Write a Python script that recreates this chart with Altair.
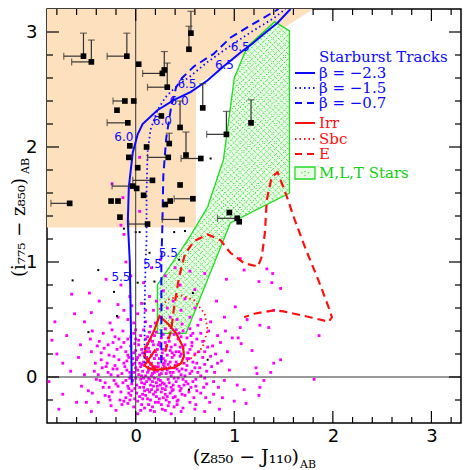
import altair as alt
import numpy as np
import pandas as pd

XMIN, XMAX = -0.9, 3.3
YMIN, YMAX = -0.4, 3.2
W, H = 414, 414

X_TICKS = [-0.8, -0.6, -0.4, -0.2, 0.0, 0.2, 0.4, 0.6, 0.8, 1.0, 1.2, 1.4, 1.6, 1.8,
           2.0, 2.2, 2.4, 2.6, 2.8, 3.0, 3.2]
Y_TICKS = [-0.2, 0.0, 0.2, 0.4, 0.6, 0.8, 1.0, 1.2, 1.4, 1.6, 1.8, 2.0, 2.2, 2.4, 2.6,
           2.8, 3.0]
LABEL_VALUES = [0, 1, 2, 3]

# shaded selection region
SEL_X = [-0.9, 0.61, 0.611, 1.80]
SEL_Y = [1.30, 1.30, 2.54, 3.20]

# M,L,T stars region: upper and lower boundary
MLT_UP_X = [0.22, 0.55, 0.73, 0.89, 1.00, 1.13, 1.41, 1.56]
MLT_UP_Y = [0.80, 1.22, 1.48, 1.89, 2.60, 2.87, 3.09, 3.01]
MLT_LO_X = [0.22, 0.51, 0.96, 1.56]
MLT_LO_Y = [0.38, 0.38, 1.34, 1.60]

# starburst tracks
TRK_A_X = [-0.04, -0.05, -0.06, -0.08, -0.07, -0.03, 0.02, 0.07, 0.22, 0.39, 0.56, 0.73, 0.89, 1.06, 1.17, 1.28, 1.44, 1.57]
TRK_A_Y = [-0.05, 0.50, 1.00, 1.35, 1.65, 1.95, 2.11, 2.20, 2.32, 2.41, 2.48, 2.58, 2.70, 2.82, 2.89, 2.97, 3.08, 3.20]
TRK_B_X = [0.09, 0.09, 0.10, 0.11, 0.11, 0.12, 0.15, 0.22, 0.30, 0.39, 0.56, 0.73, 0.96, 1.17, 1.40, 1.52]
TRK_B_Y = [0.12, 0.60, 1.00, 1.20, 1.60, 1.95, 2.15, 2.32, 2.43, 2.51, 2.62, 2.74, 2.88, 3.00, 3.12, 3.20]
TRK_C_X = [0.26, 0.26, 0.26, 0.27, 0.28, 0.31, 0.36, 0.41, 0.47, 0.59, 0.79, 0.96, 1.17, 1.45]
TRK_C_Y = [0.12, 0.60, 1.00, 1.30, 1.75, 2.08, 2.35, 2.52, 2.60, 2.70, 2.81, 2.95, 3.06, 3.20]

TRK_LBL_X = [-0.15, -0.12, 0.90, 0.17, 0.44, 1.06, 0.33, 0.27, 0.52]
TRK_LBL_Y = [0.87, 2.09, 2.71, 0.98, 2.40, 2.87, 1.08, 2.23, 2.55]
TRK_LBL_T = ["5.5", "6.0", "6.5", "5.5", "6.0", "6.5", "5.5", "6.0", "6.5"]

# galaxy tracks
IRR_X = [0.20, 0.09, 0.12, 0.19, 0.29, 0.39, 0.46, 0.49, 0.48, 0.41, 0.32, 0.24, 0.19, 0.14, 0.10, 0.09, 0.12, 0.17, 0.21]
IRR_Y = [0.24, 0.10, 0.08, 0.06, 0.07, 0.08, 0.12, 0.18, 0.26, 0.38, 0.47, 0.53, 0.41, 0.32, 0.25, 0.18, 0.14, 0.10, 0.06]
SBC_X = [0.12, 0.30, 0.49, 0.59, 0.68, 0.73, 0.70, 0.59, 0.46, 0.32, 0.22]
SBC_Y = [0.09, 0.08, 0.12, 0.18, 0.26, 0.41, 0.55, 0.67, 0.71, 0.67, 0.57]
E_X = [0.30, 0.36, 0.39, 0.44, 0.50, 0.59, 0.73, 0.86, 0.96, 1.10, 1.24, 1.28, 1.31, 1.33, 1.38, 1.44,
       1.52, 1.62, 1.73, 1.85, 1.96, 1.99, 1.96, 1.77, 1.50, 1.40, 1.20, 1.10]
E_Y = [0.22, 0.41, 0.61, 0.87, 1.07, 1.18, 1.24, 1.19, 1.08, 0.99, 0.96, 1.05, 1.25, 1.54, 1.74, 1.78,
       1.60, 1.35, 1.10, 0.85, 0.60, 0.52, 0.48, 0.52, 0.57, 0.58, 0.55, 0.52]

# candidates: x, y, left error end, upper error end (None = no bar)
SOURCES = [
    (-0.53, 2.79, -0.73, 2.99), (-0.45, 2.74, -0.65, 2.93), (-0.09, 2.79, -0.29, 2.99),
    (0.03, 2.72, None, None), (0.27, 2.64, 0.07, None), (0.29, 2.67, None, 2.83),
    (0.32, 2.52, 0.12, 2.73), (0.54, 2.85, None, 3.05), (0.56, 2.99, None, 3.18),
    (0.68, 2.34, None, 2.55), (0.45, 2.17, None, 2.40), (0.26, 2.27, None, None),
    (-0.02, 2.40, None, None), (-0.11, 2.40, -0.23, None), (-0.19, 2.32, None, None),
    (-0.08, 2.21, -0.29, None), (-0.06, 2.01, None, None), (0.11, 2.00, None, None),
    (-0.07, 1.91, None, None), (0.02, 1.82, None, None), (-0.03, 1.66, -0.24, None),
    (0.01, 1.64, None, None), (0.08, 1.58, None, None), (-0.25, 1.53, None, None),
    (-0.18, 1.53, None, None), (-0.67, 1.51, -0.86, None), (-0.16, 1.39, None, None),
    (0.12, 1.33, -0.07, None), (0.17, 1.71, -0.03, None), (0.34, 2.03, None, 2.12),
    (0.33, 1.91, 0.12, None), (0.51, 1.93, None, 2.13), (0.66, 1.90, 0.46, None),
    (0.92, 2.11, 0.72, 2.31), (0.45, 1.67, None, None), (0.58, 1.55, 0.39, None),
    (0.35, 1.53, None, None), (0.30, 1.50, None, None), (0.47, 1.37, 0.27, None),
    (0.95, 1.43, None, None), (1.03, 1.38, 0.83, None), (1.05, 1.35, None, None),
    (1.17, 2.21, None, 2.41),
]

# small black field objects
BLK_X = [-0.64, -0.38, -0.22, -0.48, -0.19, 0.02, 0.09, 0.14, 0.19, 0.58, 0.73, 0.54, 0.44, 0.76, 0.39, 0.50, -0.12, 0.00, 0.04]
BLK_Y = [0.84, 0.93, 0.74, 0.39, 0.53, 0.82, 0.64, 1.08, 0.83, 0.73, 0.15, -0.11, 1.02, 1.90, 1.26, 1.27, 1.29, 1.26, 1.26]

# magenta field galaxies (estimated positions)
MAG_CORE = [
    (-0.10, -0.18), (-0.04, -0.12), (0.02, -0.21), (0.07, -0.15), (0.12, -0.19), (0.16, -0.11), (0.21, -0.17),
    (0.26, -0.13), (0.31, -0.20), (0.35, -0.14), (0.40, -0.17), (0.45, -0.12), (-0.07, -0.14), (0.04, -0.17),
    (0.18, -0.15), (0.28, -0.18), (0.38, -0.11), (0.09, -0.12), (0.23, -0.22), (0.50, -0.16), (-0.15, -0.13),
    (0.13, -0.24), (0.33, -0.25), (-0.02, -0.26),
    (-0.13, -0.05), (-0.08, -0.08), (-0.03, -0.03), (0.01, -0.07), (0.05, -0.02), (0.08, -0.09), (0.11, -0.04),
    (0.15, -0.07), (0.19, -0.01), (0.22, -0.08), (0.25, -0.03), (0.29, -0.06), (0.33, -0.02), (0.36, -0.09),
    (0.41, -0.04), (0.44, -0.08), (0.48, -0.02), (0.53, -0.06), (-0.18, -0.08), (-0.01, -0.10), (0.13, -0.01),
    (0.27, -0.10), (0.39, -0.01), (0.06, -0.05), (0.17, -0.04), (0.31, -0.08), (-0.06, -0.01), (0.58, -0.04),
    (-0.22, -0.03), (0.21, -0.05),
    (-0.14, 0.03), (-0.09, 0.06), (-0.05, 0.01), (0.00, 0.08), (0.03, 0.02), (0.07, 0.05), (0.10, 0.01),
    (0.14, 0.07), (0.17, 0.03), (0.20, 0.09), (0.24, 0.02), (0.27, 0.06), (0.31, 0.03), (0.34, 0.08),
    (0.38, 0.04), (0.42, 0.07), (0.46, 0.02), (0.51, 0.06), (0.55, 0.03), (-0.19, 0.07), (0.05, 0.09),
    (0.12, 0.04), (0.22, 0.05), (0.29, 0.09), (0.36, 0.01), (0.44, 0.05), (-0.02, 0.04), (0.60, 0.08),
    (-0.25, 0.02), (0.16, 0.01),
    (-0.12, 0.12), (-0.07, 0.17), (-0.03, 0.11), (0.01, 0.15), (0.04, 0.19), (0.08, 0.13), (0.11, 0.17),
    (0.15, 0.11), (0.19, 0.16), (0.23, 0.12), (0.26, 0.18), (0.30, 0.14), (0.33, 0.11), (0.37, 0.17),
    (0.41, 0.13), (0.45, 0.18), (0.49, 0.12), (0.54, 0.16), (-0.17, 0.15), (0.06, 0.11), (0.13, 0.14),
    (0.28, 0.11), (0.39, 0.19), (0.58, 0.13), (-0.22, 0.18), (0.21, 0.19),
    (-0.10, 0.22), (-0.05, 0.27), (0.00, 0.23), (0.03, 0.28), (0.07, 0.21), (0.10, 0.26), (0.14, 0.22),
    (0.18, 0.28), (0.22, 0.24), (0.27, 0.21), (0.31, 0.27), (0.35, 0.23), (0.40, 0.28), (0.44, 0.22),
    (0.48, 0.26), (0.53, 0.21), (-0.15, 0.26), (0.12, 0.29), (0.25, 0.27), (0.37, 0.21), (0.57, 0.27),
    (-0.01, 0.29),
    (-0.08, 0.33), (-0.02, 0.38), (0.03, 0.32), (0.08, 0.41), (0.12, 0.35), (0.17, 0.31), (0.21, 0.39),
    (0.26, 0.34), (0.30, 0.42), (0.34, 0.31), (0.39, 0.37), (0.43, 0.33), (0.48, 0.40), (0.52, 0.34),
    (-0.13, 0.40), (0.15, 0.44), (0.36, 0.43), (0.58, 0.38), (0.05, 0.36), (0.24, 0.30),
    (-0.12, -0.21), (-0.01, -0.19), (0.06, -0.24), (0.10, -0.16), (0.15, -0.20), (0.20, -0.13), (0.24, -0.19),
    (0.30, -0.15), (0.34, -0.22), (0.43, -0.20), (0.47, -0.15), (0.09, -0.27), (0.17, -0.26), (0.39, -0.26),
    (-0.05, -0.16), (0.26, -0.24),
    (-0.10, -0.03), (-0.04, -0.06), (0.00, -0.01), (0.04, -0.09), (0.09, -0.06), (0.12, -0.11), (0.14, -0.02),
    (0.18, -0.08), (0.23, -0.02), (0.27, -0.05), (0.30, -0.11), (0.34, -0.05), (0.38, -0.07), (0.43, -0.01),
    (0.46, -0.10), (0.51, -0.04), (0.56, -0.09), (0.61, -0.02),
    (-0.11, 0.09), (-0.06, 0.04), (-0.01, 0.12), (0.02, 0.06), (0.06, 0.01), (0.09, 0.10), (0.13, 0.06),
    (0.16, 0.12), (0.19, 0.04), (0.23, 0.09), (0.26, 0.03), (0.29, 0.12), (0.32, 0.06), (0.35, 0.13),
    (0.39, 0.08), (0.43, 0.11), (0.47, 0.07), (0.52, 0.10), (0.57, 0.05), (0.62, 0.12),
    (-0.08, 0.19), (-0.02, 0.21), (0.02, 0.17), (0.06, 0.24), (0.09, 0.18), (0.13, 0.25), (0.16, 0.19),
    (0.20, 0.22), (0.24, 0.16), (0.28, 0.24), (0.32, 0.19), (0.36, 0.26), (0.41, 0.22), (0.46, 0.20),
    (0.50, 0.28), (0.55, 0.24), (0.60, 0.20),
    (-0.05, 0.35), (0.00, 0.41), (0.10, 0.33), (0.14, 0.39), (0.19, 0.36), (0.28, 0.37), (0.33, 0.34),
    (0.41, 0.41), (0.46, 0.35), (0.55, 0.42), (0.62, 0.33),
    (-0.38, 0.02), (-0.33, -0.09), (-0.29, 0.12), (-0.35, 0.21), (-0.24, -0.13), (-0.21, 0.10), (-0.27, 0.19),
    (-0.31, -0.16), (-0.19, 0.24), (-0.23, 0.30), (-0.36, -0.03), (-0.16, -0.20), (-0.28, 0.04), (-0.20, -0.06),
    (-0.41, 0.12), (-0.17, 0.33),
    (0.65, 0.08), (0.69, -0.09), (0.73, 0.26), (0.66, 0.38), (0.77, 0.09), (0.81, 0.20), (0.70, -0.01),
    (0.75, -0.22), (0.68, 0.17), (0.86, 0.30),
    (-0.27, -0.09), (-0.23, 0.07), (-0.14, -0.24), (-0.09, 0.14), (-0.06, -0.20), (-0.03, 0.16), (0.01, -0.14),
    (0.04, 0.12), (0.07, -0.19), (0.11, 0.22), (0.14, -0.13), (0.17, 0.08), (0.20, -0.22), (0.23, 0.28),
    (0.25, -0.07), (0.28, 0.16), (0.32, -0.17), (0.35, 0.04), (0.37, -0.12), (0.40, 0.10), (0.42, -0.21),
    (0.45, 0.26), (0.49, -0.07), (0.52, 0.16), (0.54, -0.13), (0.57, 0.30), (0.59, -0.18), (0.63, 0.04),
    (0.66, -0.14), (0.70, 0.22), (-0.32, 0.25), (-0.26, -0.20), (-0.18, 0.01), (-0.12, 0.30), (-0.07, -0.10),
    (0.00, 0.33), (0.08, -0.01), (0.15, 0.32), (0.22, -0.11), (0.30, 0.30), (0.38, -0.18), (0.44, 0.38),
    (0.50, 0.01), (0.56, 0.36), (0.61, -0.08), (0.72, 0.05), (0.79, -0.04), (0.83, 0.12),
]
MAG_HALO = [
    (-0.48, -0.12), (-0.42, 0.05), (-0.38, -0.22), (-0.35, 0.15), (-0.31, -0.05), (-0.28, 0.28), (-0.27, -0.17),
    (-0.33, 0.38), (-0.45, 0.22), (-0.52, 0.02), (-0.40, -0.02), (-0.30, 0.09), (-0.25, -0.25), (-0.37, 0.31),
    (-0.21, 0.35), (-0.26, 0.47), (-0.18, 0.52), (-0.55, -0.08), (-0.58, 0.17), (-0.44, 0.40),
    (0.62, -0.12), (0.66, 0.01), (0.70, 0.11), (0.64, 0.22), (0.72, -0.06), (0.76, 0.18), (0.68, 0.31),
    (0.80, 0.04), (0.84, -0.09), (0.78, 0.27), (0.87, 0.14), (0.90, -0.03), (0.74, 0.40), (0.83, 0.36),
    (0.93, 0.22), (0.63, 0.45), (0.71, -0.18), (0.61, -0.24), (0.79, -0.15), (0.95, 0.06),
    (-0.08, 0.50), (0.02, 0.55), (0.10, 0.48), (0.18, 0.58), (0.06, 0.64), (-0.04, 0.62), (0.14, 0.70),
    (0.26, 0.52), (0.32, 0.60), (0.42, 0.50), (0.46, 0.58), (0.55, 0.52), (0.38, 0.66), (0.50, 0.68),
    (0.21, 0.66), (-0.12, 0.58), (0.60, 0.60), (0.28, 0.75),
    (0.05, -0.29), (0.19, -0.30), (0.27, -0.28), (0.42, -0.24), (0.55, -0.22), (-0.08, -0.23), (0.36, -0.32),
    (0.48, -0.27),
    (-0.44, -0.14), (-0.39, 0.27), (-0.34, 0.08), (-0.46, 0.33), (0.02, -0.32), (0.15, -0.29), (0.30, -0.29),
    (0.46, -0.30), (-0.20, -0.29), (0.60, -0.28), (0.88, -0.18), (0.91, 0.40), (-0.50, -0.22), (-0.56, 0.28),
    (0.10, 0.58), (0.35, 0.52), (-0.02, 0.47), (0.20, 0.47), (0.47, 0.46), (0.66, 0.50), (-0.24, 0.41),
    (0.76, 0.48),
]
MAG_OUTER = [
    (-0.88, -0.04), (-0.80, 0.20), (-0.74, -0.15), (-0.70, 0.36), (-0.66, 0.05), (-0.62, 0.55), (-0.60, -0.22),
    (-0.52, 0.48), (-0.47, 0.73), (-0.37, 0.66), (-0.45, 0.56), (-0.30, 0.85), (-0.18, 0.63), (-0.06, 0.70),
    (-0.15, 0.80), (-0.05, 0.88), (0.08, 0.82), (0.16, 0.95), (0.30, 0.88), (0.45, 0.80), (0.60, 0.76),
    (0.70, 0.90), (0.82, 0.66), (0.90, 0.52), (-0.82, 0.48), (-0.74, 0.12), (-0.85, 0.32), (-0.78, -0.28),
    (-0.65, 0.72), (0.85, -0.28), (0.25, 1.02), (-0.10, 1.00), (0.40, 0.95), (-0.45, -0.30), (0.70, -0.30),
    (0.92, 0.85), (0.55, 0.92),
    (1.06, 1.03), (1.10, 0.93), (1.33, 0.94), (1.39, 0.90), (1.25, 0.83), (1.38, 0.82), (1.47, 0.77),
    (1.40, 0.58), (1.01, 0.61), (1.13, 0.50), (1.26, 0.45), (1.35, 0.43), (1.06, 0.43), (0.98, 0.34),
    (1.04, 0.34), (1.07, 0.29), (1.18, 0.23), (1.40, 0.12), (1.47, 0.15), (1.37, 0.04), (1.22, 0.08),
    (1.23, 0.03), (1.30, -0.03), (1.26, -0.09), (1.25, -0.16), (1.03, -0.07), (1.10, -0.11), (1.00, -0.21),
    (1.12, -0.23), (1.86, 0.36), (1.81, -0.02),
    (0.04, 1.91), (-0.24, 1.68), (-0.13, 1.56), (0.04, 1.44), (-0.15, 1.32), (-0.12, 1.24),
]

BLUE = "#0a0aff"
RED = "#ff1010"
GREEN = "#22dd22"
GREEN_TXT = "#10d010"
MAGENTA = "#ff00ff"
PEACH = "#fde0bd"
HATCH_BG = "#e9fbe6"
HATCH_LINE = "#33e033"

XS = alt.Scale(domain=[XMIN, XMAX], nice=False, zero=False)
YS = alt.Scale(domain=[YMIN, YMAX], nice=False, zero=False)
XAX = alt.Axis(values=LABEL_VALUES, ticks=False, domain=False, grid=False, labelFontSize=18,
               labelFont="DejaVu Sans", labelColor="black", labelPadding=4, title=None, labelFlush=False)
YAX = alt.Axis(values=LABEL_VALUES, ticks=False, domain=False, grid=False, labelFontSize=18,
               labelFont="DejaVu Sans", labelColor="black", labelPadding=10, title=None, labelFlush=False)


def X(f="x"):
    return alt.X(f"{f}:Q", scale=XS, axis=XAX)


def Y(f="y"):
    return alt.Y(f"{f}:Q", scale=YS, axis=YAX)


def path_df(xs, ys):
    return pd.DataFrame({"x": xs, "y": ys, "i": list(range(len(xs)))})


ONE = pd.DataFrame({"a": [0]})
layers = []

# shaded region
sel = pd.DataFrame({"x": SEL_X, "y": SEL_Y, "top": [YMAX] * len(SEL_X)})
layers.append(alt.Chart(sel).mark_area(color=PEACH, clip=True).encode(
    x=X(), y=Y(), y2=alt.Y2("top:Q")))

# M,L,T region fill (between lower and upper boundary)
xs_all = sorted(set(MLT_UP_X + MLT_LO_X))
mlt_fill = pd.DataFrame({
    "x": xs_all,
    "yt": np.interp(xs_all, MLT_UP_X, MLT_UP_Y),
    "yb": np.interp(xs_all, MLT_LO_X, MLT_LO_Y),
})
layers.append(alt.Chart(mlt_fill).mark_area(color=HATCH_BG, clip=True).encode(
    x=X(), y=Y("yt"), y2=alt.Y2("yb:Q")))

# cross-hatching of the region: diagonal lines clipped to the region boundary
px_x = W / (XMAX - XMIN)
px_y = H / (YMAX - YMIN)
slope = px_x / px_y
step = 4.2 * np.sqrt(2) / px_y
grid = np.linspace(MLT_UP_X[0], MLT_UP_X[-1], 900)
upper = np.interp(grid, MLT_UP_X, MLT_UP_Y)
lower = np.interp(grid, MLT_LO_X, MLT_LO_Y)
segs = []
for m in (slope, -slope):
    cvals = np.concatenate([upper - m * grid, lower - m * grid])
    for c in np.arange(cvals.min(), cvals.max(), step):
        yy = m * grid + c
        inside = (yy >= lower) & (yy <= upper)
        idx = np.flatnonzero(inside)
        if idx.size < 2:
            continue
        breaks = np.flatnonzero(np.diff(idx) > 1)
        starts = np.concatenate([[idx[0]], idx[breaks + 1]])
        ends = np.concatenate([idx[breaks], [idx[-1]]])
        for s, e in zip(starts, ends):
            if e > s:
                segs.append((grid[s], yy[s], grid[e], yy[e]))
hatch = pd.DataFrame(segs, columns=["x", "y", "x2", "y2"])
layers.append(alt.Chart(hatch).mark_rule(color=HATCH_LINE, strokeWidth=1, strokeDash=[1.3, 1.7],
                                         clip=True).encode(
    x=X(), y=Y(), x2=alt.X2("x2:Q"), y2=alt.Y2("y2:Q")))

poly_x = MLT_LO_X + MLT_UP_X[::-1] + [MLT_LO_X[0]]
poly_y = MLT_LO_Y + MLT_UP_Y[::-1] + [MLT_LO_Y[0]]
layers.append(alt.Chart(path_df(poly_x, poly_y)).mark_line(color=GREEN, strokeWidth=1.3, clip=True).encode(
    x=X(), y=Y(), order="i:Q"))

# magenta field galaxies
mag = pd.DataFrame(MAG_CORE + MAG_HALO + MAG_OUTER, columns=["x", "y"])
layers.append(alt.Chart(mag).mark_square(color=MAGENTA, size=8, opacity=1, clip=True).encode(x=X(), y=Y()))

# black small dots
blk = pd.DataFrame({"x": BLK_X, "y": BLK_Y})
layers.append(alt.Chart(blk).mark_square(color="black", size=4, opacity=1, clip=True).encode(x=X(), y=Y()))

# zero lines
layers.append(alt.Chart(pd.DataFrame({"x": [0.0]})).mark_rule(color="#333333", strokeWidth=1).encode(x=X()))
layers.append(alt.Chart(pd.DataFrame({"y": [0.0]})).mark_rule(color="#333333", strokeWidth=1).encode(y=Y()))

# galaxy tracks
layers.append(alt.Chart(path_df(IRR_X, IRR_Y)).mark_line(color=RED, strokeWidth=2.2, clip=True).encode(
    x=X(), y=Y(), order="i:Q"))
layers.append(alt.Chart(path_df(SBC_X, SBC_Y)).mark_line(color=RED, strokeWidth=1.8, strokeDash=[1.5, 3],
                                                          clip=True).encode(x=X(), y=Y(), order="i:Q"))
layers.append(alt.Chart(path_df(E_X, E_Y)).mark_line(color=RED, strokeWidth=2.2, strokeDash=[8, 5],
                                                      clip=True).encode(x=X(), y=Y(), order="i:Q"))

# starburst tracks
layers.append(alt.Chart(path_df(TRK_A_X, TRK_A_Y)).mark_line(color=BLUE, strokeWidth=2, clip=True).encode(
    x=X(), y=Y(), order="i:Q"))
layers.append(alt.Chart(path_df(TRK_B_X, TRK_B_Y)).mark_line(color=BLUE, strokeWidth=1.8, strokeDash=[1.5, 3],
                                                              clip=True).encode(x=X(), y=Y(), order="i:Q"))
layers.append(alt.Chart(path_df(TRK_C_X, TRK_C_Y)).mark_line(color=BLUE, strokeWidth=2, strokeDash=[8, 5],
                                                              clip=True).encode(x=X(), y=Y(), order="i:Q"))
lbl = pd.DataFrame({"x": TRK_LBL_X, "y": TRK_LBL_Y, "t": TRK_LBL_T})
layers.append(alt.Chart(lbl).mark_text(color=BLUE, font="DejaVu Sans", fontSize=12, baseline="middle",
                                       align="center").encode(x=X(), y=Y(), text="t:N"))

# candidates with error bars
src = pd.DataFrame(SOURCES, columns=["x", "y", "xlo", "yhi"])
hb = src.dropna(subset=["xlo"])
vb = src.dropna(subset=["yhi"])
layers.append(alt.Chart(hb).mark_rule(color="#333333", strokeWidth=1.2).encode(
    x=X("xlo"), x2=alt.X2("x:Q"), y=Y()))
layers.append(alt.Chart(hb).mark_tick(color="#333333", orient="vertical", size=7, thickness=1.2).encode(
    x=X("xlo"), y=Y()))
layers.append(alt.Chart(vb).mark_rule(color="#333333", strokeWidth=1.2, clip=True).encode(
    x=X(), y=Y(), y2=alt.Y2("yhi:Q")))
layers.append(alt.Chart(vb).mark_tick(color="#333333", orient="horizontal", size=7, thickness=1.2,
                                      clip=True).encode(x=X(), y=Y("yhi")))
layers.append(alt.Chart(src).mark_square(color="black", size=32, opacity=1).encode(x=X(), y=Y()))

# inward ticks on all four sides
ly_major, ly_minor = 12 / px_y, 6 / px_y
lx_major, lx_minor = 12 / px_x, 6 / px_x
rows = []
for t in X_TICKS:
    L = ly_major if abs(t - round(t)) < 1e-6 else ly_minor
    rows.append((t, t, YMIN, YMIN + L))
    rows.append((t, t, YMAX, YMAX - L))
for t in Y_TICKS:
    L = lx_major if abs(t - round(t)) < 1e-6 else lx_minor
    rows.append((XMIN, XMIN + L, t, t))
    rows.append((XMAX, XMAX - L, t, t))
ticks = pd.DataFrame(rows, columns=["x", "x2", "y", "y2"])
layers.append(alt.Chart(ticks).mark_rule(color="black", strokeWidth=1.2).encode(
    x=X(), x2=alt.X2("x2:Q"), y=Y(), y2=alt.Y2("y2:Q")))

# legend (pixel positions inside the plot area)
LEG = [("Starburst Tracks", 48, BLUE), ("β = −2.3", 64, BLUE), ("β = −1.5", 79, BLUE),
       ("β = −0.7", 94, BLUE), ("Irr", 114, RED), ("Sbc", 130, RED), ("E", 145, RED),
       ("M,L,T Stars", 164, GREEN_TXT)]
for txt, py, col in LEG:
    layers.append(alt.Chart(ONE).mark_text(text=txt, color=col, font="DejaVu Serif", fontSize=15,
                                           align="left", baseline="middle").encode(
        x=alt.value(272), y=alt.value(py)))
LEG_LINES = [(64, BLUE, None), (79, BLUE, [1.5, 3]), (94, BLUE, [7, 5]),
             (114, RED, None), (130, RED, [1.5, 3]), (145, RED, [7, 5])]
for py, col, dash in LEG_LINES:
    kw = dict(color=col, strokeWidth=2)
    if dash is not None:
        kw["strokeDash"] = dash
    layers.append(alt.Chart(ONE).mark_rule(**kw).encode(
        x=alt.value(248), x2=alt.value(268), y=alt.value(py)))
layers.append(alt.Chart(ONE).mark_rect(fill=HATCH_BG, stroke=GREEN, strokeWidth=1.3).encode(
    x=alt.value(248), x2=alt.value(268), y=alt.value(158), y2=alt.value(170)))
layers.append(alt.Chart(ONE).mark_text(text="·:·", color=HATCH_LINE, font="DejaVu Sans", fontSize=10,
                                       align="center", baseline="middle").encode(
    x=alt.value(258), y=alt.value(164)))

# axis titles
layers.append(alt.Chart(ONE).mark_text(text="(z₈₅₀ − J₁₁₀)", font="DejaVu Serif", fontSize=19,
                                       align="right", baseline="alphabetic", color="black").encode(
    x=alt.value(252), y=alt.value(454)))
layers.append(alt.Chart(ONE).mark_text(text="AB", font="DejaVu Serif", fontSize=11,
                                       align="left", baseline="alphabetic", color="black").encode(
    x=alt.value(253), y=alt.value(459)))
layers.append(alt.Chart(ONE).mark_text(text="(i₇₇₅ − z₈₅₀)", font="DejaVu Serif", fontSize=18, angle=270,
                                       align="left", baseline="alphabetic", color="black").encode(
    x=alt.value(-22), y=alt.value(268)))
layers.append(alt.Chart(ONE).mark_text(text="AB", font="DejaVu Serif", fontSize=11, angle=270,
                                       align="left", baseline="alphabetic", color="black").encode(
    x=alt.value(-18), y=alt.value(165)))

chart = alt.layer(*layers).properties(
    width=W, height=H,
    padding={"left": 39, "top": 1, "right": 2, "bottom": 55},
    autosize=alt.AutoSizeParams(type="none"),
    background="white",
).configure_view(stroke="black", strokeWidth=1.5)

chart.save("out.html", embed_options={"renderer": "svg", "actions": False})
